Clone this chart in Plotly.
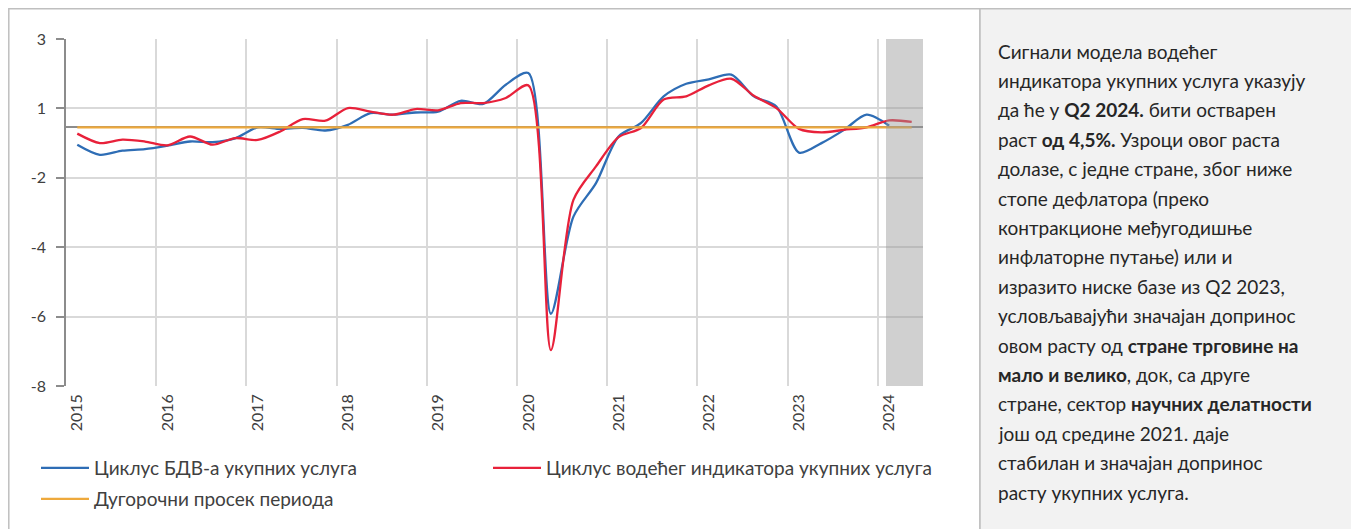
import plotly.graph_objects as go

# ---------------- data ----------------
years = ["2015", "2016", "2017", "2018", "2019", "2020", "2021", "2022", "2023", "2024"]
quarters = [f"{y}Q{q}" for y in years for q in (1, 2, 3, 4)][:38]

# Cycle of gross value added of total services (2015Q1 .. 2024Q1)
gva_cycle = [-0.55, -0.87, -0.74, -0.69, -0.58, -0.45, -0.47, -0.35,
             0.00, -0.05, -0.02, -0.10, 0.08, 0.45, 0.40, 0.47,
             0.50, 0.84, 0.74, 1.35, 1.72, -5.91, -2.83, -1.77,
             -0.29, 0.14, 0.98, 1.38, 1.52, 1.67, 0.98, 0.66,
             -0.80, -0.50, -0.08, 0.40, 0.05]

# Cycle of leading indicator of total services (2015Q1 .. 2024Q2)
leading_cycle = [-0.20, -0.50, -0.39, -0.45, -0.57, -0.29, -0.55, -0.34,
                 -0.40, -0.13, 0.26, 0.21, 0.61, 0.50, 0.40, 0.58,
                 0.54, 0.77, 0.77, 0.93, 1.33, -7.06, -2.30, -1.24,
                 -0.31, -0.02, 0.88, 0.98, 1.33, 1.54, 1.00, 0.61,
                 -0.05, -0.16, -0.08, 0.00, 0.22, 0.17]

long_run_average = 0.0

ytick_vals = [-8.2, -6.0, -3.8, -1.6, 0.6, 2.8]
ytick_text = ["-8", "-6", "-4", "-2", "1", "3"]

series_names = ["Циклус БДВ-а укупних услуга",
                "Циклус водећег индикатора укупних услуга",
                "Дугорочни просек периода"]

forecast_start = "2024Q1"

panel_lines = [
    "Сигнали модела водећег",
    "индикатора укупних услуга указују",
    "да ће у <b>Q2 2024.</b> бити остварен",
    "раст <b>од 4,5%.</b> Узроци овог раста",
    "долазе, с једне стране, због ниже",
    "стопе дефлатора (преко",
    "контракционе међугодишње",
    "инфлаторне путање) или и",
    "изразито ниске базе из Q2 2023,",
    "условљавајући значајан допринос",
    "овом расту од <b>стране трговине на</b>",
    "<b>мало и велико</b>, док, са друге",
    "стране, сектор <b>научних делатности</b>",
    "још од средине 2021. даје",
    "стабилан и значајан допринос",
    "расту укупних услуга.",
]

# ---------------- figure ----------------
OFF = 8                      # page body margin
W, H = 1351, 521
L, T, PW, PH = 58, 31, 857, 347
R, B = W - L - PW, H - T - PH


def px_x(px):                # page pixel -> paper x
    return (px - OFF - L) / PW


def px_y(py):                # page pixel -> paper y
    return (T + PH - (py - OFF)) / PH


FONT = "Lato, 'Noto Sans', sans-serif"
BLUE, RED, ORANGE = "#2E6DB5", "#E8213A", "#EEA93C"
TXT = "#404040"

pos = list(range(len(quarters)))
q_index = {q: i for i, q in enumerate(quarters)}

fig = go.Figure()
fig.add_trace(go.Scatter(x=pos[:len(gva_cycle)], y=gva_cycle, name=series_names[0],
                         mode="lines", line=dict(color=BLUE, width=2.3, shape="spline", smoothing=0.8),
                         legend="legend", showlegend=True))
fig.add_trace(go.Scatter(x=pos[:len(leading_cycle)], y=leading_cycle, name=series_names[1],
                         mode="lines", line=dict(color=RED, width=2.3, shape="spline", smoothing=0.8),
                         legend="legend3", showlegend=True))
fig.add_trace(go.Scatter(x=[pos[0], pos[len(leading_cycle) - 1]],
                         y=[long_run_average, long_run_average], name=series_names[2],
                         mode="lines", line=dict(color=ORANGE, width=2.3),
                         legend="legend2", showlegend=True))

q1_pos = [q_index[q] for q in quarters if q.endswith("Q1")]
boundaries = [p - 0.5 for p in q1_pos]

fig.update_xaxes(range=[-0.5, len(quarters) - 0.5], tickmode="array", tickvals=q1_pos,
                 ticktext=years, tickangle=-90, showgrid=False, zeroline=False, showline=False,
                 ticks="", ticklabelstandoff=4, tickfont=dict(family=FONT, size=16, color=TXT),
                 minor=dict(tickmode="array", tickvals=boundaries, showgrid=True,
                            gridcolor="#d9d9d9", gridwidth=1.5, ticks=""))
fig.update_yaxes(range=[ytick_vals[0], ytick_vals[-1]], tickmode="array", tickvals=ytick_vals,
                 ticktext=ytick_text, showgrid=True, gridcolor="#d9d9d9", gridwidth=1.5,
                 zeroline=True, zerolinecolor="#8c8c8c", zerolinewidth=1.5,
                 showline=True, linecolor="#8c8c8c", linewidth=1.5,
                 ticks="outside", ticklen=8, tickwidth=1.5, tickcolor="#8c8c8c",
                 ticklabelstandoff=7, tickfont=dict(family=FONT, size=16, color=TXT))

shapes = [
    # forecast shading
    dict(type="rect", xref="x", yref="y", x0=q_index[forecast_start] - 0.14,
         x1=len(quarters) - 0.5, y0=ytick_vals[0], y1=ytick_vals[-1],
         fillcolor="rgba(150,150,150,0.45)", line=dict(width=0), layer="above"),
    # chart frame
    dict(type="rect", xref="paper", yref="paper", x0=px_x(8.8), x1=px_x(980),
         y0=px_y(545), y1=px_y(8.8), line=dict(color="#bfbfbf", width=1.5),
         fillcolor="rgba(0,0,0,0)", layer="below"),
    # text panel
    dict(type="rect", xref="paper", yref="paper", x0=px_x(980), x1=px_x(1375),
         y0=px_y(545), y1=px_y(8.8), line=dict(color="#bfbfbf", width=1.5),
         fillcolor="#f2f2f2", layer="below"),
]

annotations = []
y0, dy = 51, 29.4
for k, line in enumerate(panel_lines):
    annotations.append(dict(xref="paper", yref="paper", x=px_x(996), y=px_y(y0 + k * dy),
                            xanchor="left", yanchor="middle", showarrow=False, text=line,
                            font=dict(family=FONT, size=19, color="#262626")))

leg_common = dict(orientation="h", xanchor="left", yanchor="top", itemwidth=48,
                  font=dict(family=FONT, size=19, color=TXT), bgcolor="rgba(0,0,0,0)")

fig.update_layout(
    width=W, height=H, margin=dict(l=L, r=R, t=T, b=B, autoexpand=False),
    paper_bgcolor="white", plot_bgcolor="rgba(0,0,0,0)",
    shapes=shapes, annotations=annotations, showlegend=True,
    legend=dict(x=px_x(36), y=px_y(449), **leg_common),
    legend3=dict(x=px_x(488), y=px_y(449), **leg_common),
    legend2=dict(x=px_x(36), y=px_y(480), **leg_common),
)

fig.write_html("out.html")
